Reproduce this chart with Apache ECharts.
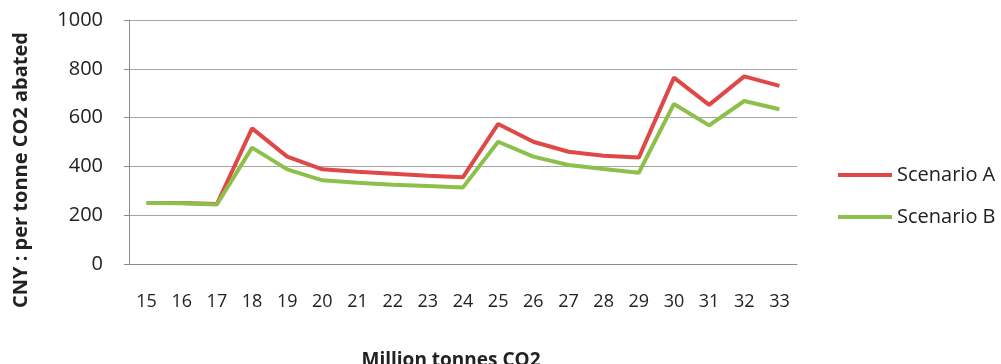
<!DOCTYPE html>
<html>
<head>
<meta charset="utf-8">
<script src="https://cdn.jsdelivr.net/npm/echarts@6/dist/echarts.min.js"></script>
<style>html,body{margin:0;padding:0;background:#fff;overflow:hidden;}#c{width:1001px;height:364px;}</style>
</head>
<body>
<div id="c"></div>
<script>
var categories = ['15','16','17','18','19','20','21','22','23','24','25','26','27','28','29','30','31','32','33'];
var scenarioA = [250, 250, 246, 556, 440, 388, 378, 370, 362, 356, 574, 501, 460, 444, 436, 764, 652, 769, 730];
var scenarioB = [250, 249, 244, 477, 388, 343, 333, 325, 320, 314, 501, 440, 406, 389, 374, 656, 568, 668, 634];
var yTicks = [0, 200, 400, 600, 800, 1000];
var xTitle = 'Million tonnes CO2';
var yTitle = 'CNY : per tonne CO2 abated';

var FONT = 'Open Sans';
var chart = echarts.init(document.getElementById('c'), null, {renderer: 'canvas', width: 1001, height: 364});
chart.setOption({
  animation: false,
  backgroundColor: '#ffffff',
  textStyle: {fontFamily: FONT},
  grid: {left: 129, width: 668, top: 20, height: 244, containLabel: false, outerBoundsMode: 'none'},
  legend: {
    orient: 'vertical',
    left: 833,
    top: 160,
    itemWidth: 54,
    itemHeight: 4,
    itemGap: 22,
    icon: 'rect',
    textStyle: {fontFamily: FONT, fontSize: 20, color: '#222'},
    data: ['Scenario A', 'Scenario B']
  },
  graphic: [
    {type: 'text', x: 451, y: 361, silent: true,
     style: {text: xTitle, fill: '#222', font: 'bold 19px "Open Sans"', align: 'center', verticalAlign: 'middle'}},
    {type: 'text', x: 21, y: 170, rotation: Math.PI / 2, silent: true,
     style: {text: yTitle, fill: '#222', font: 'bold 20px "Open Sans"', align: 'center', verticalAlign: 'middle'}}
  ],
  xAxis: {
    type: 'category',
    data: categories,
    boundaryGap: true,
    axisLine: {lineStyle: {color: '#8c8c8c', width: 1}},
    axisTick: {show: false},
    axisLabel: {margin: 29, fontSize: 18, color: '#222', fontFamily: FONT, interval: 0}
  },
  yAxis: {
    type: 'value',
    min: yTicks[0],
    max: yTicks[yTicks.length - 1],
    interval: 200,
    axisLine: {show: true, lineStyle: {color: '#8c8c8c', width: 1}},
    axisTick: {show: true, length: 5, lineStyle: {color: '#8c8c8c'}},
    splitLine: {show: true, lineStyle: {color: '#a6a6a6', width: 1}},
    axisLabel: {margin: 26, fontSize: 20, color: '#222', fontFamily: FONT,
                formatter: function (v) { return String(v); }}
  },
  series: [
    {name: 'Scenario A', type: 'line', data: scenarioA, symbol: 'none', smooth: false,
     lineStyle: {width: 4, color: '#e04848'}, itemStyle: {color: '#e04848'}},
    {name: 'Scenario B', type: 'line', data: scenarioB, symbol: 'none', smooth: false,
     lineStyle: {width: 4, color: '#8dc04a'}, itemStyle: {color: '#8dc04a'}}
  ]
});
</script>
</body>
</html>
